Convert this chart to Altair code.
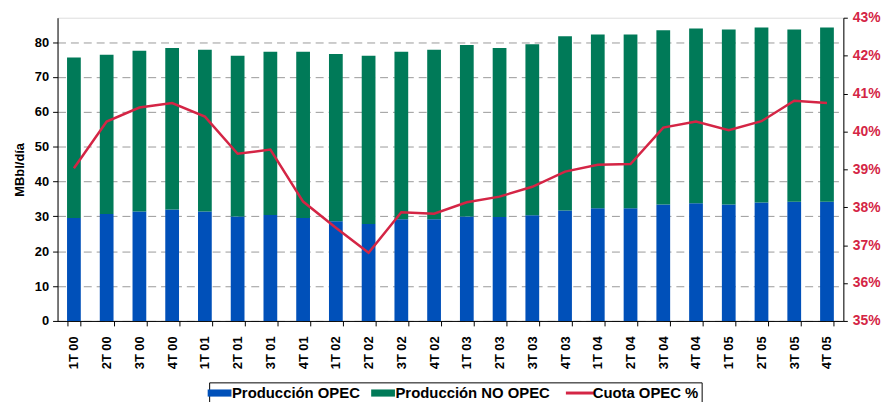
import altair as alt
import pandas as pd

categories = ["1T 00", "2T 00", "3T 00", "4T 00", "1T 01", "2T 01", "3T 01", "4T 01",
              "1T 02", "2T 02", "3T 02", "4T 02", "1T 03", "2T 03", "3T 03", "4T 03",
              "1T 04", "2T 04", "3T 04", "4T 04", "1T 05", "2T 05", "3T 05", "4T 05"]
opec = [29.5, 30.7, 31.4, 32.0, 31.4, 30.0, 30.4, 29.5, 28.6, 27.8, 29.2, 29.2,
        30.0, 29.8, 30.3, 31.7, 32.3, 32.3, 33.4, 33.8, 33.4, 34.0, 34.2, 34.2]
no_opec = [46.1, 45.7, 46.1, 46.3, 46.4, 46.1, 46.8, 47.7, 48.0, 48.3, 48.0, 48.6,
           49.2, 48.5, 49.1, 50.0, 49.9, 49.9, 50.0, 50.1, 50.2, 50.2, 49.4, 50.0]
cuota = [39.03, 40.26, 40.63, 40.75, 40.39, 39.41, 39.52, 38.15, 37.46, 36.80, 37.87, 37.83,
         38.13, 38.28, 38.54, 38.94, 39.12, 39.14, 40.10, 40.26, 40.03, 40.27, 40.81, 40.75]

series_names = ["Producción OPEC", "Producción NO OPEC"]
line_name = "Cuota OPEC %"
all_names = series_names + [line_name]

rows = []
for i, c in enumerate(categories):
    rows.append({"cat": c, "serie": series_names[0], "val": opec[i], "ord": 0})
    rows.append({"cat": c, "serie": series_names[1], "val": no_opec[i], "ord": 1})
bars_df = pd.DataFrame(rows)
line_df = pd.DataFrame({"cat": categories, "cuota": cuota, "serie": line_name})

FONT = "Liberation Sans"
BLUE = "#0050b9"
GREEN = "#007a58"
RED = "#d42545"

color_scale = alt.Scale(domain=all_names, range=[BLUE, GREEN, RED])
is_line = "datum.value === '" + line_name + "'"
legend = alt.Legend(
    title=None, orient="none", legendX=153, legendY=368, direction="horizontal",
    labelFont=FONT, labelFontWeight="bold", labelFontSize=15,
    labelColor="black", labelLimit=0, columnPadding=10, labelOffset=5,
    strokeColor="black", padding=3,
    symbolType={"expr": is_line + " ? 'stroke' : 'M-1,-0.3H1V0.3H-1Z'"},
    symbolSize={"expr": is_line + " ? 841 : 576"},
    symbolStrokeWidth={"expr": is_line + " ? 3 : 0"},
    symbolStrokeColor={"expr": "scale('color', datum.value)"},
    symbolOpacity=1,
)

xenc = alt.X("cat:N", sort=categories, title=None,
             scale=alt.Scale(paddingInner=0.58, paddingOuter=0.29),
             axis=alt.Axis(labelAngle=-90, labelFont=FONT, labelFontWeight="bold",
                           labelFontSize=13, labelColor="black", tickBand="extent",
                           tickColor="black", domainColor="black", labelPadding=10,
                           labelBaseline="middle"))

bars = alt.Chart(bars_df).mark_bar().encode(
    x=xenc,
    y=alt.Y("val:Q", stack="zero", title="MBbl/día",
            scale=alt.Scale(domain=[0, 87], nice=False, zero=True),
            axis=alt.Axis(values=list(range(0, 90, 10)), grid=True, gridDash=[8, 5],
                          gridColor="#999999", gridWidth=1, labelFont=FONT,
                          labelFontWeight="bold", labelFontSize=13, labelColor="black",
                          titleFont=FONT, titleFontWeight="bold", titleFontSize=13,
                          titleColor="black", tickColor="black", domainColor="black",
                          tickSize=5, labelPadding=4, titlePadding=8)),
    color=alt.Color("serie:N", scale=color_scale, legend=legend),
    order=alt.Order("ord:Q"),
)

line = alt.Chart(line_df).mark_line(strokeWidth=2.5).encode(
    x=alt.X("cat:N", sort=categories),
    y=alt.Y("cuota:Q", title=None,
            scale=alt.Scale(domain=[35, 43], nice=False, zero=False),
            axis=alt.Axis(orient="right", values=list(range(35, 44)), grid=False,
                          labelExpr="datum.value + '%'", labelFont=FONT,
                          labelFontWeight="bold", labelFontSize=14, labelColor=RED,
                          tickColor="black", domainColor="black", tickSize=4,
                          labelPadding=5)),
    color=alt.Color("serie:N", scale=color_scale, legend=legend),
)

chart = alt.layer(bars, line).resolve_scale(y="independent").properties(
    width=793, height=306,
    autosize=alt.AutoSizeParams(type="none"),
    padding={"left": 50, "top": 8, "right": 39, "bottom": 80},
).configure_view(stroke="black", strokeWidth=1.5).configure(background="white")

chart.save("out.html", embed_options={"renderer": "svg", "actions": False})
